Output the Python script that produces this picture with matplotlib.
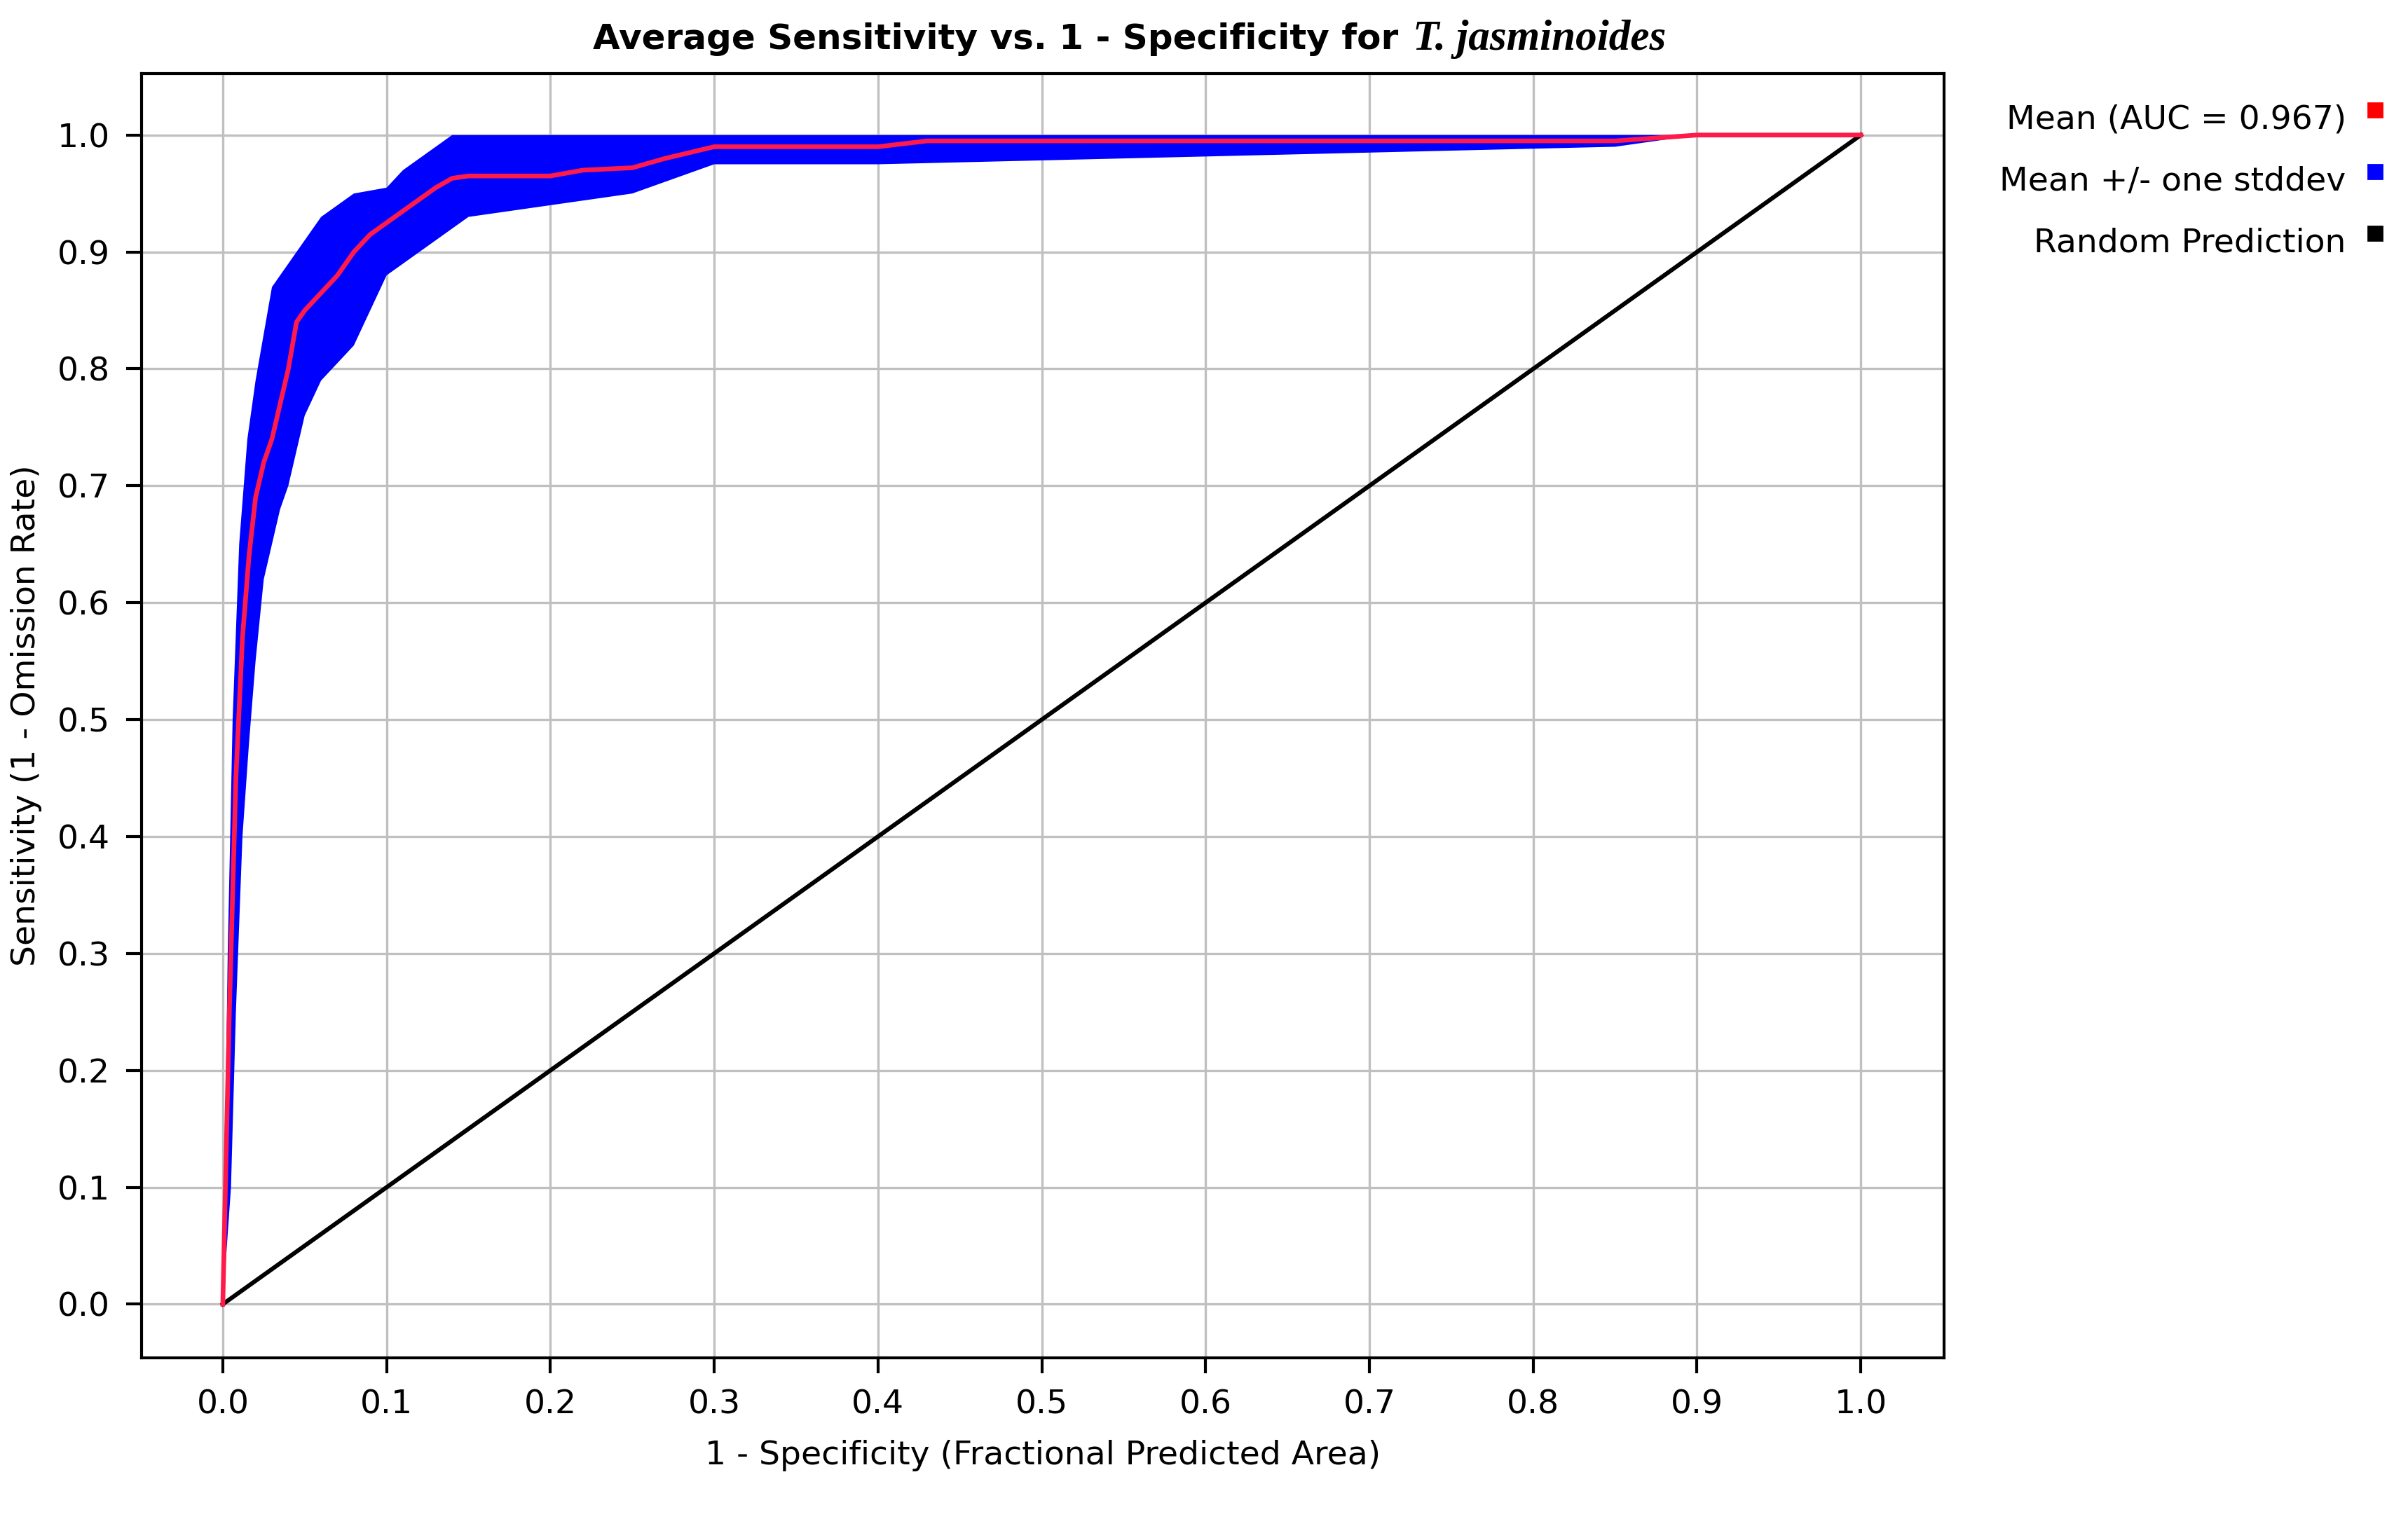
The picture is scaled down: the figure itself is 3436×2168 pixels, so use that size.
import numpy as np
import matplotlib.pyplot as plt
from matplotlib.patches import Rectangle

# mean ROC curve
mean_x = [0, 0.004, 0.008, 0.012, 0.016, 0.02, 0.025, 0.03, 0.035, 0.04, 0.045, 0.05, 0.06, 0.07, 0.08, 0.09, 0.1, 0.11, 0.12, 0.13, 0.14,
          0.15, 0.2, 0.22, 0.25, 0.27, 0.3, 0.4, 0.43, 0.85, 0.9, 1.0]
mean_y = [0, 0.25, 0.45, 0.57, 0.64, 0.69, 0.72, 0.74, 0.77, 0.80, 0.84, 0.85, 0.865, 0.88, 0.90, 0.915, 0.925, 0.935, 0.945, 0.955, 0.963,
          0.965, 0.965, 0.97, 0.972, 0.98, 0.99, 0.99, 0.995, 0.995, 1.0, 1.0]

# +/- one stddev band
upper_x = [0, 0.003, 0.006, 0.01, 0.015, 0.02, 0.025, 0.03, 0.04, 0.05, 0.06, 0.08, 0.1, 0.11, 0.12, 0.13, 0.14, 1.0]
upper_y = [0, 0.30, 0.50, 0.65, 0.74, 0.79, 0.83, 0.87, 0.89, 0.91, 0.93, 0.95, 0.955, 0.97, 0.98, 0.99, 1.0, 1.0]
lower_x = [0, 0.005, 0.008, 0.012, 0.016, 0.02, 0.025, 0.03, 0.035, 0.04, 0.05, 0.06, 0.08, 0.1, 0.12, 0.15, 0.2, 0.25, 0.3, 0.4, 0.85, 0.9, 1.0]
lower_y = [0, 0.10, 0.25, 0.40, 0.48, 0.55, 0.62, 0.65, 0.68, 0.70, 0.76, 0.79, 0.82, 0.88, 0.90, 0.93, 0.94, 0.95, 0.975, 0.975, 0.99, 1.0, 1.0]

ticks = np.round(np.arange(0, 1.01, 0.1), 1)
legend_labels = ['Mean (AUC = 0.967)', 'Mean +/- one stddev', 'Random Prediction']
legend_colors = ['#ff0000', '#0000ff', '#000000']

fig = plt.figure(figsize=(17.185, 10.84), dpi=200)
ax = fig.add_axes([0.0587, 0.106, 0.7483, 0.8455])

band_x = upper_x + lower_x[::-1]
band_y = upper_y + lower_y[::-1]
ax.fill(band_x, band_y, color='#0000ff', lw=0, zorder=2)
ax.plot([0, 1], [0, 1], color='black', lw=2.2, zorder=3)
ax.plot(mean_x, mean_y, color='#ff1a4a', lw=2.4, zorder=4)

ax.set_xlim(-0.0497, 1.0507)
ax.set_ylim(-0.046, 1.0525)
ax.set_xticks(ticks)
ax.set_yticks(ticks)
ax.set_xticklabels(['%.1f' % t for t in ticks])
ax.set_yticklabels(['%.1f' % t for t in ticks])
ax.tick_params(labelsize=17, length=8, width=1.5, direction='out', pad=8)
ax.grid(True, color='#c0c0c0', lw=1.2)
ax.set_axisbelow(True)
for s in ax.spines.values():
    s.set_linewidth(1.5)
ax.set_xlabel('1 - Specificity (Fractional Predicted Area)', fontsize=17, labelpad=10)
ax.set_ylabel('Sensitivity (1 - Omission Rate)', fontsize=17, labelpad=8)

fig.text(0.5855, 0.974, 'Average Sensitivity vs. 1 - Specificity for ', ha='right', va='center',
         fontsize=18, fontweight='bold')
fig.text(0.5867, 0.974, 'T. jasminoides', ha='left', va='center', fontsize=22,
         fontweight='bold', fontstyle='italic', family='Liberation Serif')

for i, (lab, c) in enumerate(zip(legend_labels, legend_colors)):
    y = 0.921 - i * 0.0405
    fig.text(0.974, y, lab, ha='right', va='center', fontsize=17)
    fig.patches.append(Rectangle((0.983, y + 0.002), 0.006, 0.009, transform=fig.transFigure,
                                 color=c, figure=fig))

fig.savefig('out.png', dpi=200)
